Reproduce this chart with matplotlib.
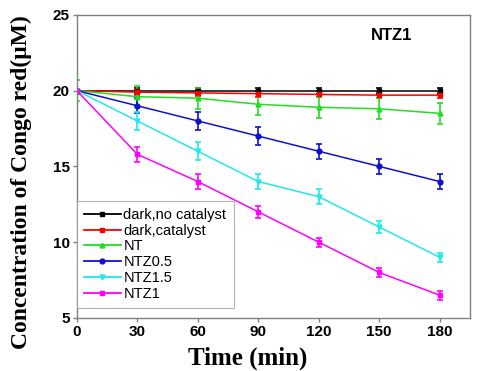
import matplotlib
matplotlib.use("Agg")
import matplotlib.pyplot as plt
from matplotlib.lines import Line2D

time = [0, 30, 60, 90, 120, 150, 180]
dark_no_cat = [20.0, 20.0, 20.0, 20.0, 20.0, 20.0, 20.0]
dark_cat = [20.0, 19.9, 19.85, 19.8, 19.75, 19.7, 19.7]
nt = [20.0, 19.6, 19.5, 19.1, 18.9, 18.8, 18.5]
ntz05 = [20.0, 19.0, 18.0, 17.0, 16.0, 15.0, 14.0]
ntz15 = [20.0, 18.0, 16.0, 14.0, 13.0, 11.0, 9.0]
ntz1 = [20.0, 15.8, 14.0, 12.0, 10.0, 8.0, 6.5]
err_dark_no_cat = [0.1, 0.2, 0.2, 0.2, 0.2, 0.2, 0.2]
err_dark_cat = [0.1, 0.2, 0.2, 0.2, 0.2, 0.2, 0.2]
err_nt = [0.7, 0.7, 0.7, 0.7, 0.7, 0.7, 0.7]
err_ntz05 = [0.1, 0.5, 0.6, 0.6, 0.5, 0.5, 0.5]
err_ntz15 = [0.1, 0.6, 0.6, 0.5, 0.5, 0.4, 0.3]
err_ntz1 = [0.1, 0.5, 0.5, 0.4, 0.3, 0.3, 0.3]

labels = ["dark,no catalyst", "dark,catalyst", "NT", "NTZ0.5", "NTZ1.5", "NTZ1"]
colors = ["#000000", "#ff0000", "#22dd22", "#1010d0", "#22e8e8", "#ff00ff"]
markers = ["s", "s", "^", "o", "v", "s"]
series = [dark_no_cat, dark_cat, nt, ntz05, ntz15, ntz1]
errors = [err_dark_no_cat, err_dark_cat, err_nt, err_ntz05, err_ntz15, err_ntz1]

fig = plt.figure(figsize=(4.8, 3.71), dpi=100)
ax = fig.add_axes([0.160, 0.143, 0.819, 0.817])

handles = []
for y, e, c, m, lab in zip(series, errors, colors, markers, labels):
    ax.errorbar(time, y, yerr=e, color=c, marker=m, markersize=3.5,
                linewidth=1.1, elinewidth=1.2, capsize=2.5, capthick=1.2)
    handles.append(Line2D([], [], color=c, marker=m, markersize=3.5,
                          linewidth=1.3, label=lab))

ax.set_xlim(0, 195)
ax.set_ylim(5, 25)
ax.set_xticks(time)
ax.set_yticks([5, 10, 15, 20, 25])
for s in ax.spines.values():
    s.set_color("#808080")
    s.set_linewidth(1.0)
ax.tick_params(direction="out", length=3, width=1, color="#808080", pad=2)
for t in ax.get_xticklabels() + ax.get_yticklabels():
    t.set_fontfamily("Liberation Sans")
    t.set_fontweight("bold")
    t.set_fontsize(11)

fig.text(0.516, 0.035, "Time (min)", fontfamily="Liberation Serif",
         fontweight="bold", fontsize=18, ha="center", va="center")
fig.text(0.045, 0.51, "Concentration of Congo red(μM)", fontfamily="Liberation Serif",
         fontweight="bold", fontsize=17, ha="center", va="center", rotation=90)

ax.text(0.80, 0.955, "NTZ1", transform=ax.transAxes, fontfamily="Liberation Sans",
        fontweight="bold", fontsize=12, ha="center", va="top")

leg = ax.legend(handles=handles, loc="lower left", bbox_to_anchor=(0.0, 0.033),
                prop={"family": "Liberation Sans", "size": 10.5},
                frameon=True, fancybox=False, edgecolor="#a0a0a0",
                handlelength=2.5, handletextpad=0.2, labelspacing=0.12,
                borderpad=0.5, borderaxespad=0.0)
leg.get_frame().set_linewidth(0.8)

fig.savefig("out.png", dpi=100)
